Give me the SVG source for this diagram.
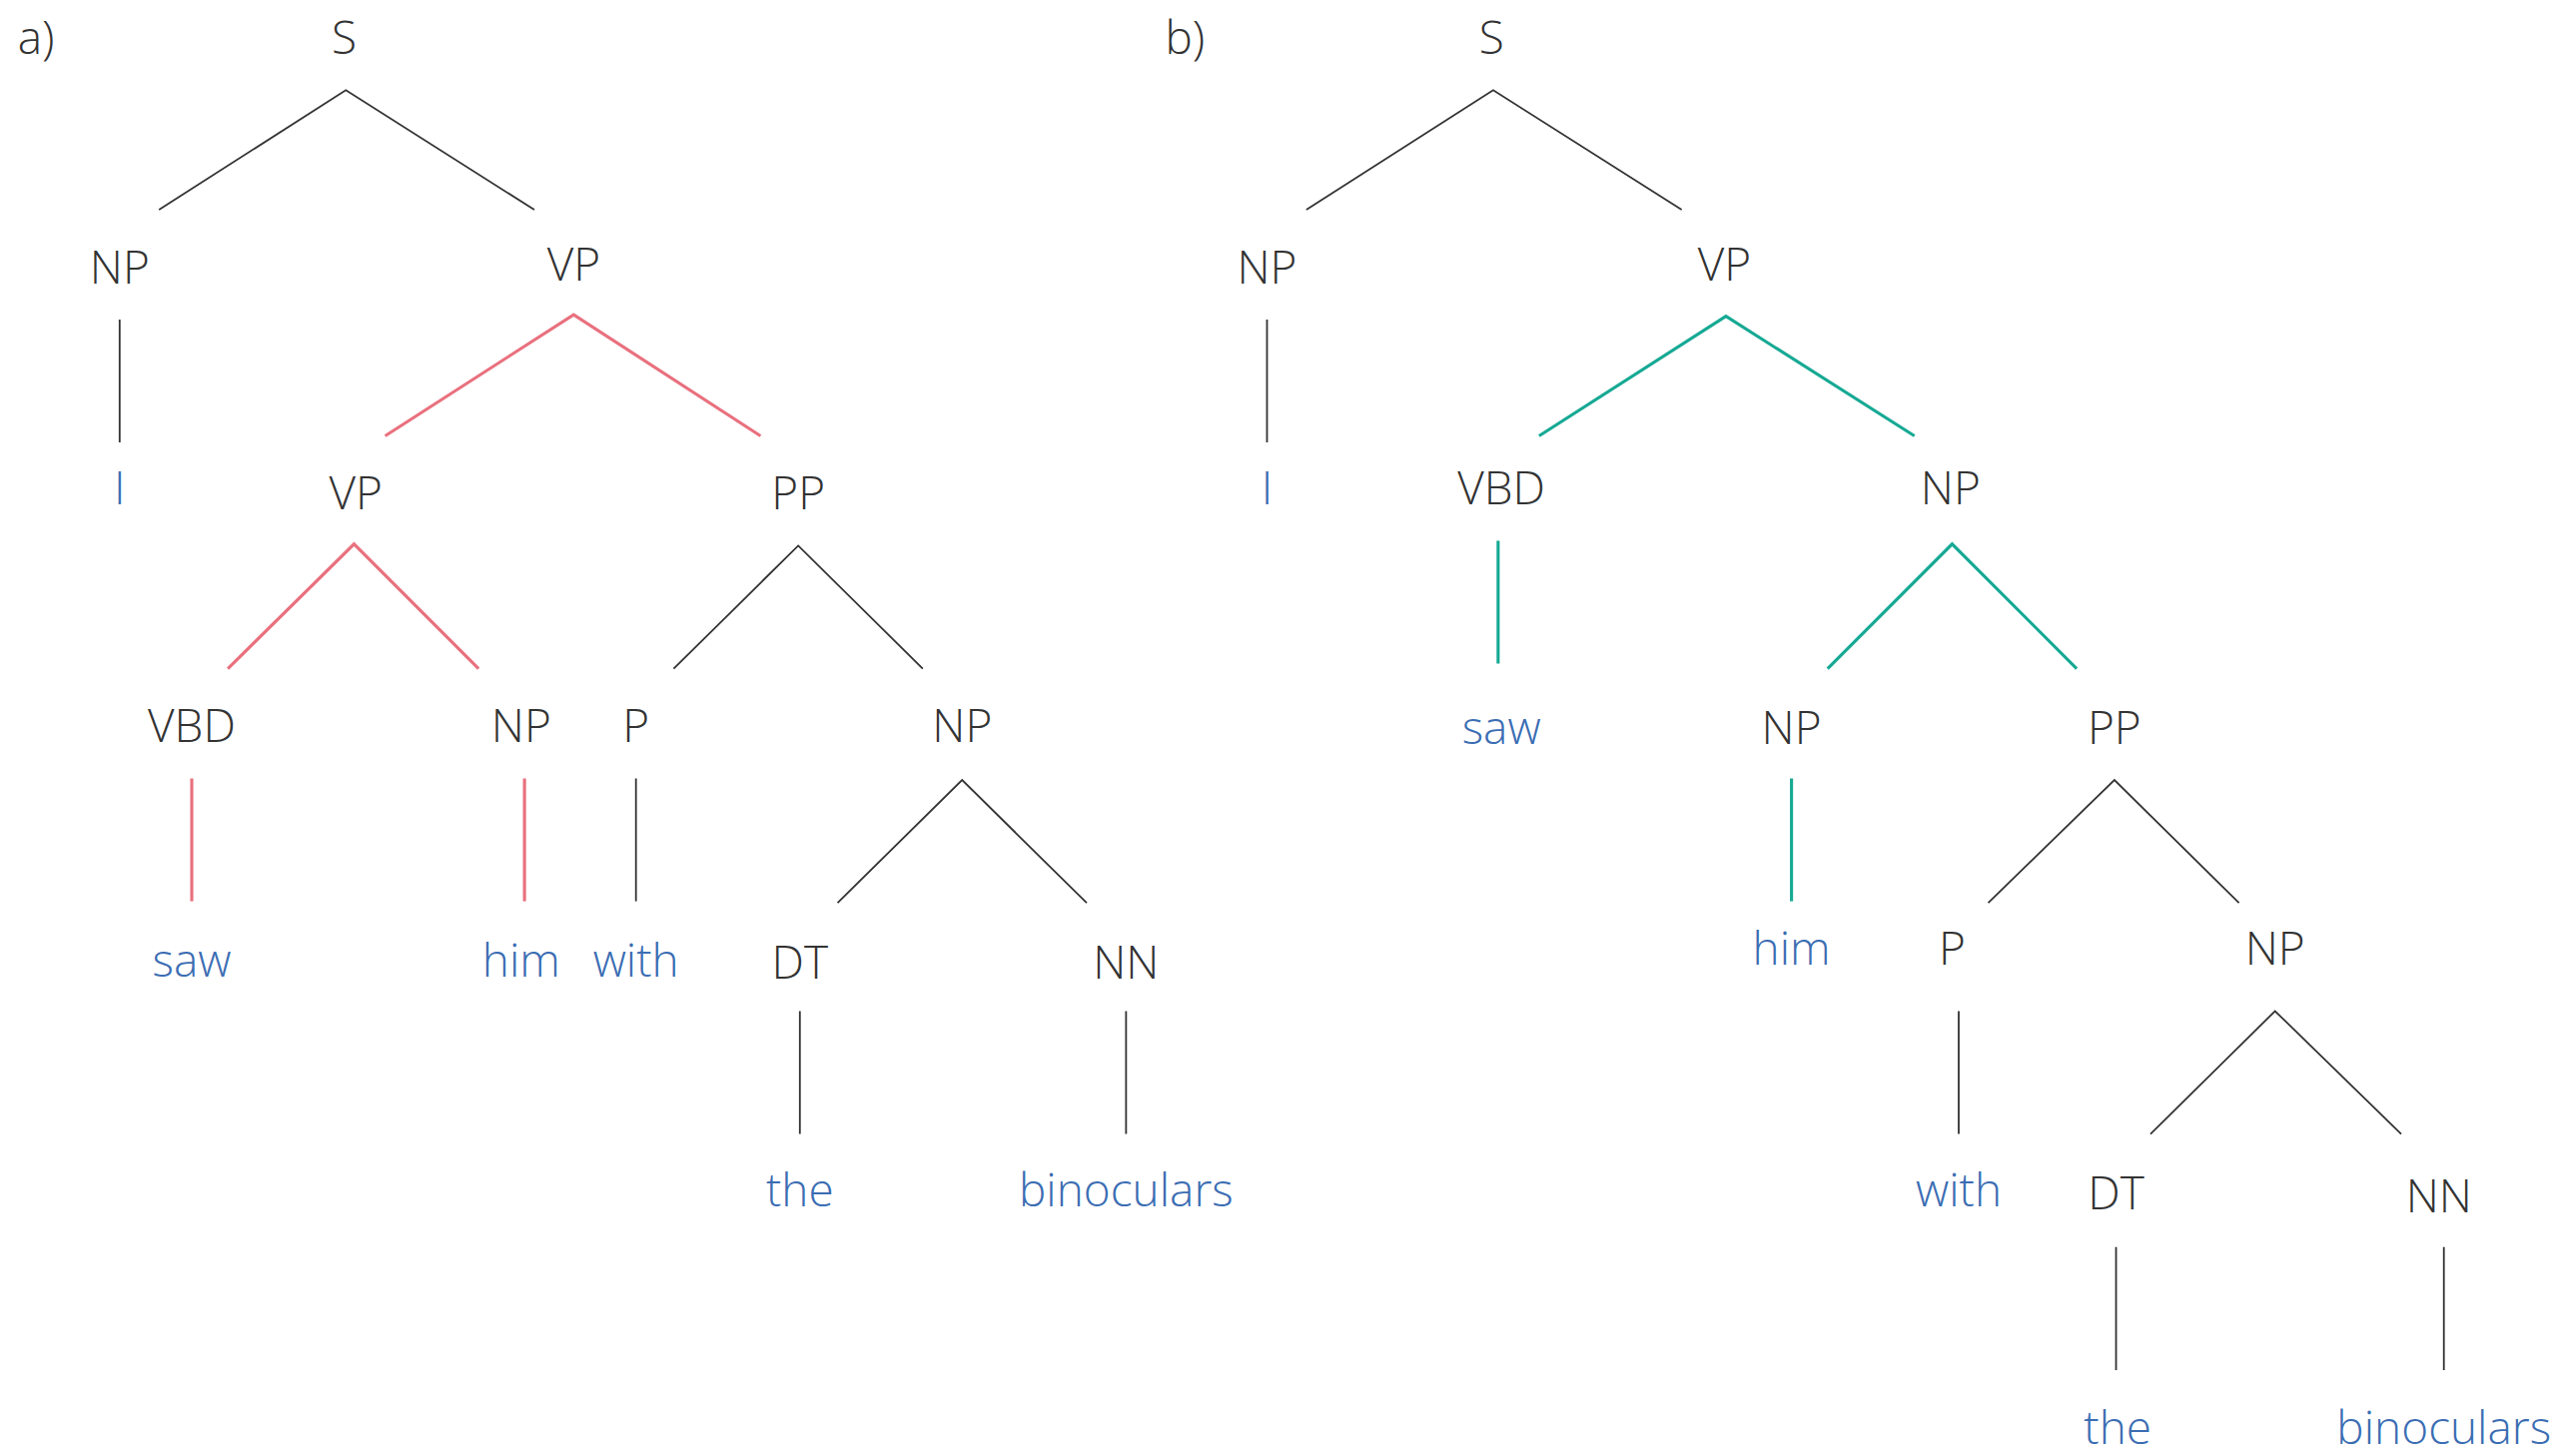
<svg xmlns="http://www.w3.org/2000/svg" width="2560" height="1458" viewBox="0 0 2560 1458">
<style>
text{font-family:"Open Sans","Noto Sans",sans-serif;font-weight:300;font-size:28px;text-anchor:middle;dominant-baseline:central}
.c{fill:#333}
.w{fill:#3b6db3}
.k{stroke:#333;stroke-width:1.1;fill:none}
.r{stroke:#e9707e;stroke-width:1.9;fill:none}
.t{stroke:#16a994;stroke-width:1.9;fill:none}
</style>
<rect width="2560" height="1458" fill="#fff"/>
<g transform="scale(1.641)">
<g id="connectors">
<path class="k" d="M97,128L211,55L326,128M73,195V270M411,408L487,333L563,408M388,475V550M511,551L587,476L663,551M488,617V692M687,617V692"/>
<path class="r" d="M235,266L350,192L464,266M139,408L216,332L292,408M117,475V550M320,475V550"/>
<path class="k" d="M797,128L911,55L1026,128M773,195V270M1213,551L1290,476L1366,551M1195,617V692M1312,692L1388,617L1465,692M1291,761V836M1491,761V836"/>
<path class="t" d="M939,266L1053,193L1168,266M914,330V405M1115,408L1191,332L1267,408M1093,475V550"/>
</g>
<g id="label-a"><text class="c" x="22" y="22">a)</text></g>
<g id="a-S"><text class="c" x="210" y="22">S</text></g>
<g id="a-NP1"><text class="c" x="73" y="162">NP</text></g>
<g id="a-VP1"><text class="c" x="350" y="160">VP</text></g>
<g id="a-I"><text class="w" x="73" y="297">I</text></g>
<g id="a-VP2"><text class="c" x="217" y="300">VP</text></g>
<g id="a-PP"><text class="c" x="487" y="300">PP</text></g>
<g id="a-VBD"><text class="c" x="117" y="442">VBD</text></g>
<g id="a-NP2"><text class="c" x="318" y="442">NP</text></g>
<g id="a-P"><text class="c" x="388" y="442">P</text></g>
<g id="a-NP3"><text class="c" x="587" y="442">NP</text></g>
<g id="a-saw"><text class="w" x="117" y="585">saw</text></g>
<g id="a-him"><text class="w" x="318" y="585">him</text></g>
<g id="a-with"><text class="w" x="388" y="585">with</text></g>
<g id="a-DT"><text class="c" x="488" y="586">DT</text></g>
<g id="a-NN"><text class="c" x="687" y="586">NN</text></g>
<g id="a-the"><text class="w" x="488" y="725">the</text></g>
<g id="a-bin"><text class="w" x="687" y="725">binoculars</text></g>
<g id="label-b"><text class="c" x="723" y="22">b)</text></g>
<g id="b-S"><text class="c" x="910" y="22">S</text></g>
<g id="b-NP1"><text class="c" x="773" y="162">NP</text></g>
<g id="b-VP"><text class="c" x="1052" y="160">VP</text></g>
<g id="b-I"><text class="w" x="773" y="297">I</text></g>
<g id="b-VBD"><text class="c" x="916" y="297">VBD</text></g>
<g id="b-NP2"><text class="c" x="1190" y="297">NP</text></g>
<g id="b-saw"><text class="w" x="916" y="443">saw</text></g>
<g id="b-NP3"><text class="c" x="1093" y="443">NP</text></g>
<g id="b-PP"><text class="c" x="1290" y="443">PP</text></g>
<g id="b-him"><text class="w" x="1093" y="578">him</text></g>
<g id="b-P"><text class="c" x="1191" y="578">P</text></g>
<g id="b-NP4"><text class="c" x="1388" y="578">NP</text></g>
<g id="b-with"><text class="w" x="1195" y="725">with</text></g>
<g id="b-DT"><text class="c" x="1291" y="727">DT</text></g>
<g id="b-NN"><text class="c" x="1488" y="729">NN</text></g>
<g id="b-the"><text class="w" x="1292" y="870">the</text></g>
<g id="b-bin"><text class="w" x="1491" y="870">binoculars</text></g>
</g>
</svg>
